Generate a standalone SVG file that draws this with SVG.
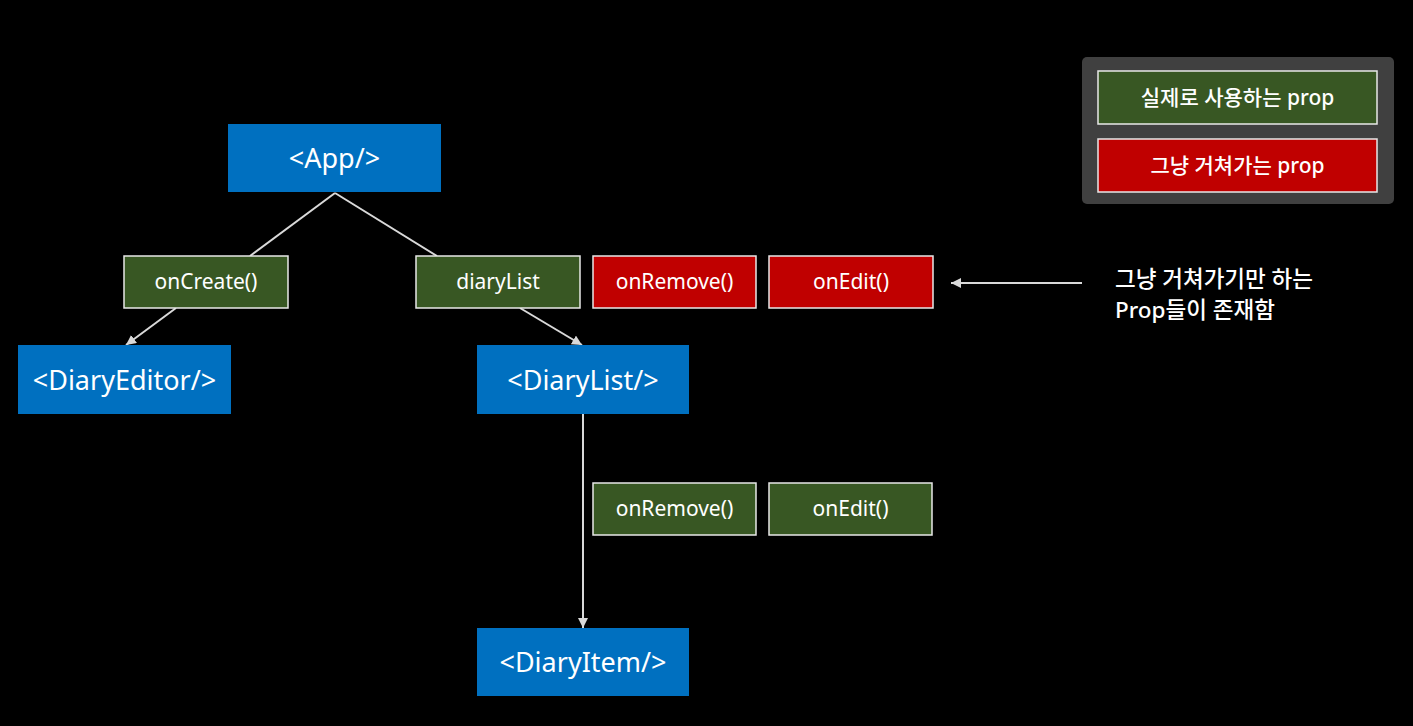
<svg xmlns="http://www.w3.org/2000/svg" width="1413" height="726" viewBox="0 0 1413 726">
<defs>
<style>
.comp{fill:#0070C0}
.ct{fill:#fff;font-family:"Noto Sans","Noto Sans CJK KR",sans-serif;font-size:27px;text-anchor:middle;dominant-baseline:central}
.g{fill:#385723;stroke:#e8e8e8;stroke-width:1.5}
.r{fill:#C00000;stroke:#e8e8e8;stroke-width:1.5}
.pt{fill:#fff;font-family:"Noto Sans","Noto Sans CJK KR",sans-serif;font-size:21px;text-anchor:middle;dominant-baseline:central}
.lt{fill:#fff;font-family:"Noto Sans","Noto Sans CJK KR",sans-serif;font-size:21px;font-weight:500;text-anchor:middle;dominant-baseline:central}
.note{fill:#fff;font-family:"Noto Sans","Noto Sans CJK KR",sans-serif;font-size:22.5px;font-weight:500}
.ln{stroke:#d9d9d9;stroke-width:2;fill:none}
</style>
<marker id="ah" viewBox="0 0 10 10" refX="10" refY="5" markerWidth="5" markerHeight="5" orient="auto" markerUnits="strokeWidth">
<path d="M0,0 L10,5 L0,10 z" fill="#d9d9d9"/>
</marker>
</defs>
<rect width="1413" height="726" fill="#000"/>
<g id="connectors">
<line class="ln" x1="335" y1="193" x2="250" y2="256"/>
<line class="ln" x1="335" y1="193" x2="437" y2="256"/>
<line class="ln" x1="176" y1="308" x2="126" y2="345" marker-end="url(#ah)"/>
<line class="ln" x1="520" y1="308" x2="582" y2="345" marker-end="url(#ah)"/>
<line class="ln" x1="583" y1="414" x2="583" y2="628" marker-end="url(#ah)"/>
<line class="ln" x1="1082" y1="283" x2="951" y2="283" marker-end="url(#ah)"/>
</g>
<g id="app"><rect class="comp" x="228" y="124" width="213" height="68"/><text class="ct" x="334.5" y="157">&lt;App/&gt;</text></g>
<g id="diaryEditor"><rect class="comp" x="18" y="345" width="213" height="69"/><text class="ct" x="124.5" y="379">&lt;DiaryEditor/&gt;</text></g>
<g id="diaryListNode"><rect class="comp" x="477" y="345" width="212" height="69"/><text class="ct" x="583" y="379">&lt;DiaryList/&gt;</text></g>
<g id="diaryItem"><rect class="comp" x="477" y="628" width="212" height="68"/><text class="ct" x="583" y="661">&lt;DiaryItem/&gt;</text></g>
<g id="onCreate"><rect class="g" x="124" y="256" width="164" height="52"/><text class="pt" x="206" y="281">onCreate()</text></g>
<g id="diaryListProp"><rect class="g" x="416" y="256" width="164" height="52"/><text class="pt" x="498" y="281">diaryList</text></g>
<g id="onRemoveRed"><rect class="r" x="593" y="256" width="163" height="52"/><text class="pt" x="674.5" y="281">onRemove()</text></g>
<g id="onEditRed"><rect class="r" x="769" y="256" width="164" height="52"/><text class="pt" x="851" y="281">onEdit()</text></g>
<g id="onRemoveGreen"><rect class="g" x="593" y="483" width="163" height="52"/><text class="pt" x="674.5" y="508">onRemove()</text></g>
<g id="onEditGreen"><rect class="g" x="769" y="483" width="163" height="52"/><text class="pt" x="850.5" y="508">onEdit()</text></g>
<g id="legend">
<rect x="1082" y="57" width="312" height="147" rx="5" fill="#404040"/>
<rect class="g" x="1098" y="71" width="279" height="53"/><text class="lt" x="1237.5" y="97">실제로 사용하는 prop</text>
<rect class="r" x="1098" y="139" width="279" height="53"/><text class="lt" x="1237.5" y="165">그냥 거쳐가는 prop</text>
</g>
<g id="note">
<text class="note" x="1115" y="287">그냥 거쳐가기만 하는</text>
<text class="note" x="1115" y="318">Prop들이 존재함</text>
</g>
</svg>
